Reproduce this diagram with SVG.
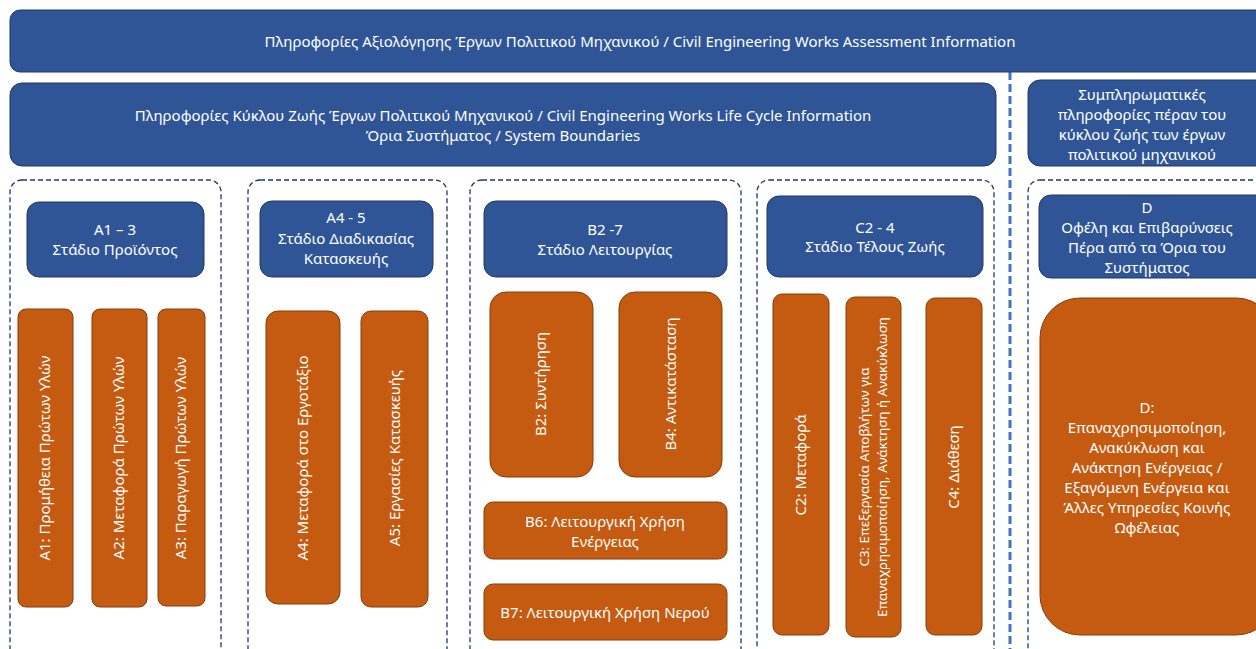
<svg xmlns="http://www.w3.org/2000/svg" width="1256" height="649" viewBox="0 0 1256 649">
<style>
.bar{fill:#2F5597;stroke:#203864;stroke-width:1}
.org{fill:#C55A11;stroke:#843C0C;stroke-width:1}
.grp{fill:none;stroke:#1F3864;stroke-width:1.3;stroke-dasharray:5,3}
.sep{stroke:#4472C4;stroke-width:3;stroke-dasharray:8,4}
text{font-family:"Noto Sans","Open Sans","DejaVu Sans",sans-serif;font-size:15px;fill:#FFFFFF;text-anchor:middle}
.sm{font-size:13.3px}
</style>
<rect width="1256" height="649" fill="#FFFFFF"/>
<g id="connectors">
<line class="sep" x1="1010" y1="72" x2="1010" y2="649"/>
</g>
<g id="assessment">
<rect class="bar" x="10" y="10" width="1262" height="62" rx="10"/>
<text x="640" y="47">Πληροφορίες Αξιολόγησης Έργων Πολιτικού Μηχανικού / Civil Engineering Works Assessment Information</text>
</g>
<g id="lifecycle">
<rect class="bar" x="10" y="83" width="986" height="83" rx="12"/>
<text x="503" y="121">Πληροφορίες Κύκλου Ζωής Έργων Πολιτικού Μηχανικού / Civil Engineering Works Life Cycle Information</text>
<text x="503" y="141">Όρια Συστήματος / System Boundaries</text>
</g>
<g id="supplementary">
<rect class="bar" x="1028" y="80" width="240" height="86" rx="12"/>
<text x="1142" y="100">Συμπληρωματικές</text>
<text x="1142" y="120">πληροφορίες πέραν του</text>
<text x="1142" y="140">κύκλου ζωής των έργων</text>
<text x="1142" y="160">πολιτικού μηχανικού</text>
</g>
<g id="group-a13"><rect class="grp" x="10" y="180" width="211" height="490" rx="12"/></g>
<g id="group-a45"><rect class="grp" x="248" y="180" width="199" height="490" rx="12"/></g>
<g id="group-b"><rect class="grp" x="470" y="180" width="271" height="490" rx="12"/></g>
<g id="group-c"><rect class="grp" x="757" y="180" width="237" height="490" rx="12"/></g>
<g id="group-d"><rect class="grp" x="1028" y="180" width="250" height="490" rx="12"/></g>
<g id="hdr-a13">
<rect class="bar" x="27" y="202" width="177" height="75" rx="12"/>
<text x="115" y="235">A1 – 3</text>
<text x="115" y="255">Στάδιο Προϊόντος</text>
</g>
<g id="hdr-a45">
<rect class="bar" x="260" y="201" width="173" height="76" rx="12"/>
<text x="346" y="223">A4 - 5</text>
<text x="346" y="244">Στάδιο Διαδικασίας</text>
<text x="346" y="264">Κατασκευής</text>
</g>
<g id="hdr-b">
<rect class="bar" x="484" y="201" width="243" height="76" rx="12"/>
<text x="605" y="235">B2 -7</text>
<text x="605" y="255">Στάδιο Λειτουργίας</text>
</g>
<g id="hdr-c">
<rect class="bar" x="767" y="196" width="216" height="81" rx="12"/>
<text x="875" y="233">C2 - 4</text>
<text x="875" y="252">Στάδιο Τέλους Ζωής</text>
</g>
<g id="hdr-d">
<rect class="bar" x="1039" y="195" width="230" height="83" rx="12"/>
<text x="1147" y="213">D</text>
<text x="1147" y="233">Οφέλη και  Επιβαρύνσεις</text>
<text x="1147" y="253">Πέρα από τα Όρια του</text>
<text x="1147" y="273">Συστήματος</text>
</g>
<g id="a1">
<rect class="org" x="18" y="309" width="55" height="298" rx="8"/>
<text transform="translate(50,458) rotate(-90)">A1: Προμήθεια Πρώτων Υλών</text>
</g>
<g id="a2">
<rect class="org" x="92" y="309" width="55" height="298" rx="8"/>
<text transform="translate(124,458) rotate(-90)">A2: Μεταφορά Πρώτων Υλών</text>
</g>
<g id="a3">
<rect class="org" x="158" y="309" width="47" height="297" rx="8"/>
<text transform="translate(186,458) rotate(-90)">A3: Παραγωγή Πρώτων Υλών</text>
</g>
<g id="a4">
<rect class="org" x="266" y="311" width="74" height="293" rx="12"/>
<text transform="translate(308,458) rotate(-90)">A4: Μεταφορά στο Εργοτάξιο</text>
</g>
<g id="a5">
<rect class="org" x="361" y="311" width="67" height="296" rx="10"/>
<text transform="translate(400,458) rotate(-90)">A5: Εργασίες Κατασκευής</text>
</g>
<g id="b2">
<rect class="org" x="490" y="292" width="103" height="185" rx="16"/>
<text transform="translate(546,384) rotate(-90)">B2: Συντήρηση</text>
</g>
<g id="b4">
<rect class="org" x="619" y="292" width="103" height="185" rx="16"/>
<text transform="translate(676,384) rotate(-90)">B4: Αντικατάσταση</text>
</g>
<g id="b6">
<rect class="org" x="484" y="502" width="243" height="57" rx="9"/>
<text x="605" y="527">B6: Λειτουργική Χρήση</text>
<text x="605" y="547">Ενέργειας</text>
</g>
<g id="b7">
<rect class="org" x="484" y="584" width="243" height="56" rx="9"/>
<text x="605" y="618">B7: Λειτουργική Χρήση Νερού</text>
</g>
<g id="c2">
<rect class="org" x="773" y="294" width="56" height="341" rx="9"/>
<text transform="translate(806,465) rotate(-90)">C2: Μεταφορά</text>
</g>
<g id="c3">
<rect class="org" x="846" y="297" width="55" height="340" rx="9"/>
<text class="sm" transform="translate(869,467) rotate(-90)">C3: Επεξεργασία Αποβλήτων για</text>
<text class="sm" transform="translate(887,467) rotate(-90)">Επαναχρησιμοποίηση, Ανάκτηση ή Ανακύκλωση</text>
</g>
<g id="c4">
<rect class="org" x="926" y="298" width="56" height="337" rx="9"/>
<text transform="translate(959,467) rotate(-90)">C4: Διάθεση</text>
</g>
<g id="d">
<rect class="org" x="1040" y="298" width="236" height="337" rx="40"/>
<text x="1147" y="413">D:</text>
<text x="1147" y="433">Επαναχρησιμοποίηση,</text>
<text x="1147" y="453">Ανακύκλωση και</text>
<text x="1147" y="473">Ανάκτηση Ενέργειας /</text>
<text x="1147" y="493">Εξαγόμενη Ενέργεια και</text>
<text x="1147" y="513">Άλλες Υπηρεσίες Κοινής</text>
<text x="1147" y="533">Ωφέλειας</text>
</g>
</svg>
